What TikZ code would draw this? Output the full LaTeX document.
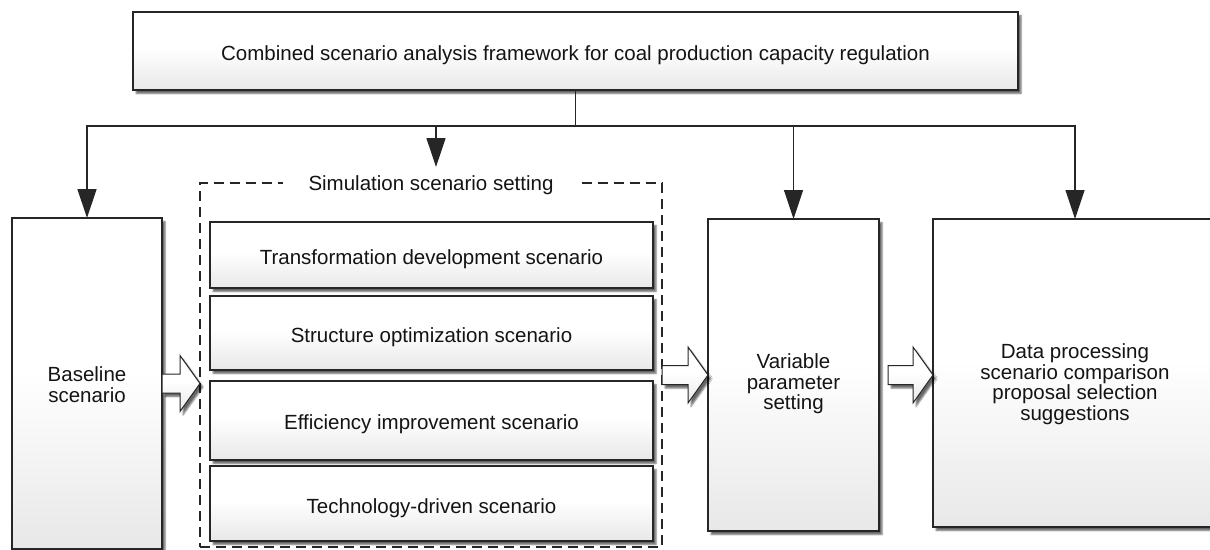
\documentclass[tikz,border=0pt]{standalone}
\usepackage{fontspec}
\setmainfont{Liberation Sans}
\usetikzlibrary{arrows.meta,shadows.blur,calc}
% soft top-to-bottom fade used by all boxes and block arrows
\pgfdeclareverticalshading{panelfade}{100bp}{color(0bp)=(black!9); color(25bp)=(black!9); color(52bp)=(white); color(100bp)=(white)}
\newcommand\lbl{\fontsize{20.5}{20.5}\selectfont}
% block arrow from #1 to the tip #2
\newcommand\fatarrow[2]{%
  \draw[fat] let \p1=(#1), \p2=(#2) in
    (\x1,\y1+9.5pt) -- (\x2-20pt,\y1+9.5pt) -- (\x2-20pt,\y1+28pt) -- (\x2,\y1)
    -- (\x2-20pt,\y1-28pt) -- (\x2-20pt,\y1-9.5pt) -- (\x1,\y1-9.5pt) -- cycle;}
\begin{document}
\begin{tikzpicture}[x=1pt,y=-1pt,
  shade/.style={blur shadow={shadow xshift=3pt, shadow yshift=-3.5pt,
      shadow blur radius=1.5pt, shadow opacity=60}},
  panel/.style={draw=black!85, line width=1.3pt, shading=panelfade, shade,
      inner sep=0pt, outer sep=0pt},
  txt/.style={align=center, font=\lbl, text=black!92, inner sep=0pt},
  frame/.style={draw=black!85, line width=1.2pt, dash pattern=on 10pt off 6pt,
      inner sep=0pt, outer sep=0pt},
  conn/.style={draw=black!85, line width=1.3pt,
      -{Triangle[length=29pt,width=19pt]}},
  fat/.style={draw=black!85, line width=1pt, shading=panelfade, shade}]
\useasboundingbox (0,0) rectangle (1210,549);
\clip (0,0) rectangle (1210,549);

% top frame box
\node[panel, minimum width=885pt, minimum height=78pt,
  label={[txt,yshift=-4pt]center:Combined scenario analysis framework for coal production capacity regulation}]
  (top) at (575.5,51) {};

% main stage boxes
\node[panel, minimum width=150pt, minimum height=331pt,
  label={[txt,yshift=-1pt]center:{Baseline\\scenario}}] (base) at (87,383.5) {};
\node[panel, minimum width=171pt, minimum height=312pt,
  label={[txt,yshift=-9pt]center:{Variable\\parameter\\setting}}] (var) at (793.5,375) {};
\node[panel, minimum width=284pt, minimum height=308pt,
  label={[txt,yshift=-11pt]center:{Data processing\\scenario comparison\\proposal selection\\suggestions}}]
  (data) at (1075,373) {};

% dashed group of simulation scenarios
\node[frame, minimum width=462pt, minimum height=364pt] (simframe) at (431,365) {};
\node[fill=white, inner xsep=26pt, inner ysep=2pt, font=\lbl, text=black!92]
  (simlabel) at (431,185) {Simulation scenario setting};
\node[panel, minimum width=443pt, minimum height=66pt,
  label={[txt,yshift=-4pt]center:Transformation development scenario}] (s1) at (431.5,255) {};
\node[panel, minimum width=443pt, minimum height=74pt,
  label={[txt,yshift=-4pt]center:Structure optimization scenario}] (s2) at (431.5,333) {};
\node[panel, minimum width=443pt, minimum height=79pt,
  label={[txt,yshift=-4pt]center:Efficiency improvement scenario}] (s3) at (431.5,420.5) {};
\node[panel, minimum width=443pt, minimum height=75pt,
  label={[txt,yshift=-5pt]center:Technology-driven scenario}] (s4) at (431.5,503.5) {};

% distribution tree
\coordinate (hub) at (top.south |- 0,126);
\coordinate (simtop) at (436,167);
\draw[draw=black!85, line width=1.3pt] (top.south) -- (hub);
\draw[conn] (hub) -| (base.north);
\draw[conn] (hub) -| (simtop);
\draw[conn] (hub) -| (var.north);
\draw[conn] (hub) -| (data.north);

% block arrows between stages
\fatarrow{base.east}{base.east -| simframe.west}
\fatarrow{simframe.east |- var.west}{var.west}
\coordinate (gap3) at ($(var.east)+(9,0)$);
\fatarrow{gap3}{data.west}
\end{tikzpicture}
\end{document}
